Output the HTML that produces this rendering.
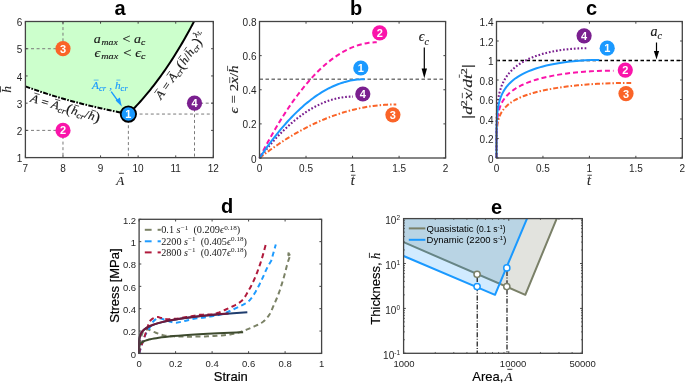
<!DOCTYPE html>
<html><head><meta charset="utf-8"><style>
html,body{margin:0;padding:0;background:#fff;width:685px;height:383px;overflow:hidden}
svg{display:block;filter:blur(0.3px)} text{white-space:pre}
</style></head><body>
<svg width="685" height="383" viewBox="0 0 685 383">
<rect width="685" height="383" fill="#fff"/>
<polygon points="25.40,21.50 194.01,21.50 194.01,21.50 192.32,24.70 190.64,27.86 188.96,30.96 187.27,34.01 185.59,37.01 183.91,39.97 182.23,42.88 180.54,45.74 178.86,48.55 177.18,51.32 175.49,54.05 173.81,56.72 172.13,59.36 170.44,61.95 168.76,64.50 167.08,67.00 165.40,69.47 163.71,71.89 162.03,74.27 160.35,76.61 158.66,78.91 156.98,81.17 155.30,83.39 153.61,85.57 151.93,87.72 150.25,89.83 148.57,91.90 146.88,93.93 145.20,95.93 143.52,97.89 141.83,99.82 140.15,101.72 138.47,103.58 136.78,105.40 135.10,107.20 133.42,108.96 131.74,110.69 130.05,112.38 128.37,114.05 128.37,114.05 125.73,113.53 123.09,113.01 120.45,112.48 117.81,111.95 115.17,111.40 112.53,110.85 109.89,110.28 107.25,109.71 104.61,109.13 101.97,108.55 99.33,107.95 96.69,107.34 94.05,106.72 91.41,106.10 88.77,105.46 86.13,104.81 83.49,104.16 80.84,103.49 78.20,102.81 75.56,102.12 72.92,101.41 70.28,100.70 67.64,99.97 65.00,99.23 62.36,98.48 59.72,97.71 57.08,96.93 54.44,96.14 51.80,95.33 49.16,94.50 46.52,93.66 43.88,92.81 41.24,91.94 38.60,91.05 35.96,90.15 33.32,89.22 30.68,88.28 28.04,87.32 25.40,86.35 25.40,86.35" fill="#ccffcc" />
<line x1="128.37" y1="114.05" x2="213.30" y2="114.05" stroke="#7a7a7a" stroke-width="1" stroke-dasharray="3 2.6" />
<line x1="128.37" y1="114.05" x2="128.37" y2="157.60" stroke="#7a7a7a" stroke-width="1" stroke-dasharray="3 2.6" />
<line x1="25.40" y1="130.38" x2="62.98" y2="130.38" stroke="#7a7a7a" stroke-width="1" stroke-dasharray="3 2.6" />
<line x1="62.98" y1="130.38" x2="62.98" y2="157.60" stroke="#7a7a7a" stroke-width="1" stroke-dasharray="3 2.6" />
<line x1="25.40" y1="48.72" x2="62.98" y2="48.72" stroke="#7a7a7a" stroke-width="1" stroke-dasharray="3 2.6" />
<line x1="62.98" y1="21.50" x2="62.98" y2="48.72" stroke="#7a7a7a" stroke-width="1" stroke-dasharray="3 2.6" />
<line x1="194.51" y1="103.16" x2="213.30" y2="103.16" stroke="#7a7a7a" stroke-width="1" stroke-dasharray="3 2.6" />
<line x1="194.51" y1="103.16" x2="194.51" y2="157.60" stroke="#7a7a7a" stroke-width="1" stroke-dasharray="3 2.6" />
<polyline points="25.40,86.35 28.04,87.32 30.68,88.28 33.32,89.22 35.96,90.15 38.60,91.05 41.24,91.94 43.88,92.81 46.52,93.66 49.16,94.50 51.80,95.33 54.44,96.14 57.08,96.93 59.72,97.71 62.36,98.48 65.00,99.23 67.64,99.97 70.28,100.70 72.92,101.41 75.56,102.12 78.20,102.81 80.84,103.49 83.49,104.16 86.13,104.81 88.77,105.46 91.41,106.10 94.05,106.72 96.69,107.34 99.33,107.95 101.97,108.55 104.61,109.13 107.25,109.71 109.89,110.28 112.53,110.85 115.17,111.40 117.81,111.95 120.45,112.48 123.09,113.01 125.73,113.53 128.37,114.05" fill="none" stroke="#000" stroke-width="2" stroke-dasharray="5 1.4 1.6 1.4" stroke-linejoin="round" />
<polyline points="128.37,114.05 130.05,112.38 131.74,110.69 133.42,108.96 135.10,107.20 136.78,105.40 138.47,103.58 140.15,101.72 141.83,99.82 143.52,97.89 145.20,95.93 146.88,93.93 148.57,91.90 150.25,89.83 151.93,87.72 153.61,85.57 155.30,83.39 156.98,81.17 158.66,78.91 160.35,76.61 162.03,74.27 163.71,71.89 165.40,69.47 167.08,67.00 168.76,64.50 170.44,61.95 172.13,59.36 173.81,56.72 175.49,54.05 177.18,51.32 178.86,48.55 180.54,45.74 182.23,42.88 183.91,39.97 185.59,37.01 187.27,34.01 188.96,30.96 190.64,27.86 192.32,24.70 194.01,21.50" fill="none" stroke="#000" stroke-width="2" stroke-linejoin="round" />
<line x1="25.40" y1="157.60" x2="25.40" y2="155.40" stroke="#444444" stroke-width="1" />
<line x1="25.40" y1="21.50" x2="25.40" y2="23.70" stroke="#444444" stroke-width="1" />
<line x1="62.98" y1="157.60" x2="62.98" y2="155.40" stroke="#444444" stroke-width="1" />
<line x1="62.98" y1="21.50" x2="62.98" y2="23.70" stroke="#444444" stroke-width="1" />
<line x1="100.56" y1="157.60" x2="100.56" y2="155.40" stroke="#444444" stroke-width="1" />
<line x1="100.56" y1="21.50" x2="100.56" y2="23.70" stroke="#444444" stroke-width="1" />
<line x1="138.14" y1="157.60" x2="138.14" y2="155.40" stroke="#444444" stroke-width="1" />
<line x1="138.14" y1="21.50" x2="138.14" y2="23.70" stroke="#444444" stroke-width="1" />
<line x1="175.72" y1="157.60" x2="175.72" y2="155.40" stroke="#444444" stroke-width="1" />
<line x1="175.72" y1="21.50" x2="175.72" y2="23.70" stroke="#444444" stroke-width="1" />
<line x1="213.30" y1="157.60" x2="213.30" y2="155.40" stroke="#444444" stroke-width="1" />
<line x1="213.30" y1="21.50" x2="213.30" y2="23.70" stroke="#444444" stroke-width="1" />
<line x1="25.40" y1="157.60" x2="27.60" y2="157.60" stroke="#444444" stroke-width="1" />
<line x1="213.30" y1="157.60" x2="211.10" y2="157.60" stroke="#444444" stroke-width="1" />
<line x1="25.40" y1="130.38" x2="27.60" y2="130.38" stroke="#444444" stroke-width="1" />
<line x1="213.30" y1="130.38" x2="211.10" y2="130.38" stroke="#444444" stroke-width="1" />
<line x1="25.40" y1="103.16" x2="27.60" y2="103.16" stroke="#444444" stroke-width="1" />
<line x1="213.30" y1="103.16" x2="211.10" y2="103.16" stroke="#444444" stroke-width="1" />
<line x1="25.40" y1="75.94" x2="27.60" y2="75.94" stroke="#444444" stroke-width="1" />
<line x1="213.30" y1="75.94" x2="211.10" y2="75.94" stroke="#444444" stroke-width="1" />
<line x1="25.40" y1="48.72" x2="27.60" y2="48.72" stroke="#444444" stroke-width="1" />
<line x1="213.30" y1="48.72" x2="211.10" y2="48.72" stroke="#444444" stroke-width="1" />
<line x1="25.40" y1="21.50" x2="27.60" y2="21.50" stroke="#444444" stroke-width="1" />
<line x1="213.30" y1="21.50" x2="211.10" y2="21.50" stroke="#444444" stroke-width="1" />
<rect x="25.40" y="21.50" width="187.90" height="136.10" fill="none" stroke="#444444" stroke-width="1.3"/>
<text x="25.40" y="171.60" font-family='"Liberation Sans", sans-serif' font-size="10" text-anchor="middle" font-weight="normal" fill="#262626" >7</text>
<text x="62.98" y="171.60" font-family='"Liberation Sans", sans-serif' font-size="10" text-anchor="middle" font-weight="normal" fill="#262626" >8</text>
<text x="100.56" y="171.60" font-family='"Liberation Sans", sans-serif' font-size="10" text-anchor="middle" font-weight="normal" fill="#262626" >9</text>
<text x="138.14" y="171.60" font-family='"Liberation Sans", sans-serif' font-size="10" text-anchor="middle" font-weight="normal" fill="#262626" >10</text>
<text x="175.72" y="171.60" font-family='"Liberation Sans", sans-serif' font-size="10" text-anchor="middle" font-weight="normal" fill="#262626" >11</text>
<text x="213.30" y="171.60" font-family='"Liberation Sans", sans-serif' font-size="10" text-anchor="middle" font-weight="normal" fill="#262626" >12</text>
<text x="22.40" y="162.20" font-family='"Liberation Sans", sans-serif' font-size="10" text-anchor="end" font-weight="normal" fill="#262626" >1</text>
<text x="22.40" y="134.98" font-family='"Liberation Sans", sans-serif' font-size="10" text-anchor="end" font-weight="normal" fill="#262626" >2</text>
<text x="22.40" y="107.76" font-family='"Liberation Sans", sans-serif' font-size="10" text-anchor="end" font-weight="normal" fill="#262626" >3</text>
<text x="22.40" y="80.54" font-family='"Liberation Sans", sans-serif' font-size="10" text-anchor="end" font-weight="normal" fill="#262626" >4</text>
<text x="22.40" y="53.32" font-family='"Liberation Sans", sans-serif' font-size="10" text-anchor="end" font-weight="normal" fill="#262626" >5</text>
<text x="22.40" y="26.10" font-family='"Liberation Sans", sans-serif' font-size="10" text-anchor="end" font-weight="normal" fill="#262626" >6</text>
<circle cx="128.37" cy="114.05" r="7.7" fill="#1a99ff" stroke="#000" stroke-width="1.8"/>
<text x="128.37" y="117.95" font-family='"Liberation Sans", sans-serif' font-size="11" text-anchor="middle" font-weight="bold" fill="#ffffff" >1</text>
<circle cx="62.98" cy="130.38" r="7.6" fill="#fa14aa"/>
<text x="62.98" y="134.28" font-family='"Liberation Sans", sans-serif' font-size="11" text-anchor="middle" font-weight="bold" fill="#ffffff" >2</text>
<circle cx="62.98" cy="48.72" r="7.6" fill="#fa6428"/>
<text x="62.98" y="52.62" font-family='"Liberation Sans", sans-serif' font-size="11" text-anchor="middle" font-weight="bold" fill="#ffffff" >3</text>
<circle cx="194.51" cy="103.16" r="7.6" fill="#7a1f8f"/>
<text x="194.51" y="107.06" font-family='"Liberation Sans", sans-serif' font-size="11" text-anchor="middle" font-weight="bold" fill="#ffffff" >4</text>
<g transform="translate(93.80,43.00)">
<text x="0.00" y="0.00" font-family='"Liberation Serif", serif' font-size="13.00" font-style="italic" fill="#1a1a1a" stroke="#1a1a1a" stroke-width="0.15" textLength="6.98" lengthAdjust="spacingAndGlyphs">a</text>
<text x="7.67" y="2.34" font-family='"Liberation Serif", serif' font-size="9.10" font-style="italic" fill="#1a1a1a" stroke="#1a1a1a" stroke-width="0.15" textLength="16.27" lengthAdjust="spacingAndGlyphs">max</text>
<text x="25.34" y="0.00" font-family='"Liberation Serif", serif' font-size="13.00" fill="#1a1a1a" stroke="#1a1a1a" stroke-width="0.15" textLength="14.85" lengthAdjust="spacingAndGlyphs"> &lt; </text>
<text x="40.19" y="0.00" font-family='"Liberation Serif", serif' font-size="13.00" font-style="italic" fill="#1a1a1a" stroke="#1a1a1a" stroke-width="0.15" textLength="6.98" lengthAdjust="spacingAndGlyphs">a</text>
<text x="47.16" y="2.34" font-family='"Liberation Serif", serif' font-size="9.10" font-style="italic" fill="#1a1a1a" stroke="#1a1a1a" stroke-width="0.15" textLength="4.34" lengthAdjust="spacingAndGlyphs">c</text>
</g>
<g transform="translate(94.60,56.70)">
<text x="0.00" y="0.00" font-family='"Liberation Serif", serif' font-size="13.00" font-style="italic" fill="#1a1a1a" stroke="#1a1a1a" stroke-width="0.15" textLength="5.88" lengthAdjust="spacingAndGlyphs">ϵ</text>
<text x="6.60" y="2.34" font-family='"Liberation Serif", serif' font-size="9.10" font-style="italic" fill="#1a1a1a" stroke="#1a1a1a" stroke-width="0.15" textLength="17.01" lengthAdjust="spacingAndGlyphs">max</text>
<text x="25.07" y="0.00" font-family='"Liberation Serif", serif' font-size="13.00" fill="#1a1a1a" stroke="#1a1a1a" stroke-width="0.15" textLength="15.52" lengthAdjust="spacingAndGlyphs"> &lt; </text>
<text x="40.59" y="0.00" font-family='"Liberation Serif", serif' font-size="13.00" font-style="italic" fill="#1a1a1a" stroke="#1a1a1a" stroke-width="0.15" textLength="5.88" lengthAdjust="spacingAndGlyphs">ϵ</text>
<text x="46.47" y="2.34" font-family='"Liberation Serif", serif' font-size="9.10" font-style="italic" fill="#1a1a1a" stroke="#1a1a1a" stroke-width="0.15" textLength="4.53" lengthAdjust="spacingAndGlyphs">c</text>
</g>
<g transform="translate(92.00,88.90)">
<text x="0.00" y="0.00" font-family='"Liberation Serif", serif' font-size="11.00" font-style="italic" fill="#1a99ff" stroke="#1a99ff" stroke-width="0.15" textLength="6.90" lengthAdjust="spacingAndGlyphs">A</text>
<line x1="1.73" y1="-8.80" x2="6.56" y2="-8.80" stroke="#1a99ff" stroke-width="0.66"/>
<text x="6.90" y="2.20" font-family='"Liberation Serif", serif' font-size="8.25" font-style="italic" fill="#1a99ff" stroke="#1a99ff" stroke-width="0.15" textLength="7.06" lengthAdjust="spacingAndGlyphs">cr</text>
<text x="14.52" y="0.00" font-family='"Liberation Serif", serif' font-size="11.00" fill="#1a99ff" stroke="#1a99ff" stroke-width="0.15" textLength="5.65" lengthAdjust="spacingAndGlyphs"> ,</text>
<text x="22.99" y="0.00" font-family='"Liberation Serif", serif' font-size="11.00" font-style="italic" fill="#1a99ff" stroke="#1a99ff" stroke-width="0.15" textLength="5.65" lengthAdjust="spacingAndGlyphs">h</text>
<line x1="24.41" y1="-8.80" x2="28.36" y2="-8.80" stroke="#1a99ff" stroke-width="0.66"/>
<text x="28.64" y="2.20" font-family='"Liberation Serif", serif' font-size="8.25" font-style="italic" fill="#1a99ff" stroke="#1a99ff" stroke-width="0.15" textLength="7.06" lengthAdjust="spacingAndGlyphs">cr</text>
</g>
<line x1="111.20" y1="91.60" x2="118.60" y2="101.80" stroke="#1a99ff" stroke-width="1.4" />
<polygon points="121.80,106.60 115.60,100.60 119.90,97.60" fill="#1a99ff" />
<g transform="translate(29.80,101.50) rotate(16.5)">
<text x="0.00" y="0.00" font-family='"Liberation Serif", serif' font-size="11.50" font-style="italic" fill="#1a1a1a" stroke="#1a1a1a" stroke-width="0.15" textLength="7.86" lengthAdjust="spacingAndGlyphs">A</text>
<line x1="1.96" y1="-9.43" x2="7.47" y2="-9.43" stroke="#1a1a1a" stroke-width="0.69"/>
<text x="7.86" y="0.00" font-family='"Liberation Serif", serif' font-size="11.50" fill="#1a1a1a" stroke="#1a1a1a" stroke-width="0.15" textLength="13.69" lengthAdjust="spacingAndGlyphs"> = </text>
<text x="21.55" y="0.00" font-family='"Liberation Serif", serif' font-size="11.50" font-style="italic" fill="#1a1a1a" stroke="#1a1a1a" stroke-width="0.15" textLength="7.86" lengthAdjust="spacingAndGlyphs">A</text>
<line x1="23.52" y1="-9.43" x2="29.02" y2="-9.43" stroke="#1a1a1a" stroke-width="0.69"/>
<text x="29.41" y="2.30" font-family='"Liberation Serif", serif' font-size="8.28" font-style="italic" fill="#1a1a1a" stroke="#1a1a1a" stroke-width="0.15" textLength="7.72" lengthAdjust="spacingAndGlyphs">cr</text>
<text x="37.13" y="0.69" font-family='"Liberation Serif", serif' font-size="14.38" fill="#1a1a1a" stroke="#1a1a1a" stroke-width="0.15" textLength="5.36" lengthAdjust="spacingAndGlyphs">(</text>
<text x="42.48" y="0.00" font-family='"Liberation Serif", serif' font-size="11.50" font-style="italic" fill="#1a1a1a" stroke="#1a1a1a" stroke-width="0.15" textLength="6.43" lengthAdjust="spacingAndGlyphs">h</text>
<line x1="44.09" y1="-9.43" x2="48.60" y2="-9.43" stroke="#1a1a1a" stroke-width="0.69"/>
<text x="48.92" y="2.30" font-family='"Liberation Serif", serif' font-size="8.28" font-style="italic" fill="#1a1a1a" stroke="#1a1a1a" stroke-width="0.15" textLength="7.72" lengthAdjust="spacingAndGlyphs">cr</text>
<text x="56.64" y="0.00" font-family='"Liberation Serif", serif' font-size="11.50" fill="#1a1a1a" stroke="#1a1a1a" stroke-width="0.15" textLength="3.57" lengthAdjust="spacingAndGlyphs">/</text>
<text x="60.21" y="0.00" font-family='"Liberation Serif", serif' font-size="11.50" font-style="italic" fill="#1a1a1a" stroke="#1a1a1a" stroke-width="0.15" textLength="6.43" lengthAdjust="spacingAndGlyphs">h</text>
<line x1="61.82" y1="-9.43" x2="66.32" y2="-9.43" stroke="#1a1a1a" stroke-width="0.69"/>
<text x="66.64" y="0.69" font-family='"Liberation Serif", serif' font-size="14.38" fill="#1a1a1a" stroke="#1a1a1a" stroke-width="0.15" textLength="5.36" lengthAdjust="spacingAndGlyphs">)</text>
</g>
<g transform="translate(161.00,100.00) rotate(-55)">
<text x="0.00" y="0.00" font-family='"Liberation Serif", serif' font-size="11.50" font-style="italic" fill="#1a1a1a" stroke="#1a1a1a" stroke-width="0.15" textLength="7.81" lengthAdjust="spacingAndGlyphs">A</text>
<line x1="1.95" y1="-9.43" x2="7.42" y2="-9.43" stroke="#1a1a1a" stroke-width="0.69"/>
<text x="7.81" y="0.00" font-family='"Liberation Serif", serif' font-size="11.50" fill="#1a1a1a" stroke="#1a1a1a" stroke-width="0.15" textLength="13.61" lengthAdjust="spacingAndGlyphs"> = </text>
<text x="21.42" y="0.00" font-family='"Liberation Serif", serif' font-size="11.50" font-style="italic" fill="#1a1a1a" stroke="#1a1a1a" stroke-width="0.15" textLength="7.81" lengthAdjust="spacingAndGlyphs">A</text>
<line x1="23.37" y1="-9.43" x2="28.84" y2="-9.43" stroke="#1a1a1a" stroke-width="0.69"/>
<text x="29.23" y="2.30" font-family='"Liberation Serif", serif' font-size="8.28" font-style="italic" fill="#1a1a1a" stroke="#1a1a1a" stroke-width="0.15" textLength="7.67" lengthAdjust="spacingAndGlyphs">cr</text>
<text x="36.90" y="0.69" font-family='"Liberation Serif", serif' font-size="14.38" fill="#1a1a1a" stroke="#1a1a1a" stroke-width="0.15" textLength="5.32" lengthAdjust="spacingAndGlyphs">(</text>
<text x="42.23" y="0.00" font-family='"Liberation Serif", serif' font-size="11.50" font-style="italic" fill="#1a1a1a" stroke="#1a1a1a" stroke-width="0.15" textLength="6.39" lengthAdjust="spacingAndGlyphs">h</text>
<line x1="43.83" y1="-9.43" x2="48.30" y2="-9.43" stroke="#1a1a1a" stroke-width="0.69"/>
<text x="48.62" y="0.00" font-family='"Liberation Serif", serif' font-size="11.50" fill="#1a1a1a" stroke="#1a1a1a" stroke-width="0.15" textLength="3.55" lengthAdjust="spacingAndGlyphs">/</text>
<text x="52.18" y="0.00" font-family='"Liberation Serif", serif' font-size="11.50" font-style="italic" fill="#1a1a1a" stroke="#1a1a1a" stroke-width="0.15" textLength="6.39" lengthAdjust="spacingAndGlyphs">h</text>
<line x1="53.77" y1="-9.43" x2="58.25" y2="-9.43" stroke="#1a1a1a" stroke-width="0.69"/>
<text x="58.57" y="2.30" font-family='"Liberation Serif", serif' font-size="8.28" font-style="italic" fill="#1a1a1a" stroke="#1a1a1a" stroke-width="0.15" textLength="7.67" lengthAdjust="spacingAndGlyphs">cr</text>
<text x="66.24" y="0.69" font-family='"Liberation Serif", serif' font-size="14.38" fill="#1a1a1a" stroke="#1a1a1a" stroke-width="0.15" textLength="5.32" lengthAdjust="spacingAndGlyphs">)</text>
<text x="71.57" y="-6.33" font-family='"Liberation Serif", serif' font-size="8.05" font-style="italic" fill="#1a1a1a" stroke="#1a1a1a" stroke-width="0.15" textLength="3.88" lengthAdjust="spacingAndGlyphs">λ</text>
<text x="75.44" y="-5.17" font-family='"Liberation Serif", serif' font-size="5.75" font-style="italic" fill="#1a1a1a" stroke="#1a1a1a" stroke-width="0.15" textLength="3.56" lengthAdjust="spacingAndGlyphs">L</text>
</g>
<g transform="translate(120.20,184.70)">
<text x="-3.97" y="0.00" font-family='"Liberation Serif", serif' font-size="13.00" font-style="italic" fill="#262626" stroke="#262626" stroke-width="0.15">A</text>
<line x1="-1.27" y1="-11.38" x2="3.73" y2="-11.38" stroke="#262626" stroke-width="0.78"/>
</g>
<g transform="translate(11.30,89.30) rotate(-90)">
<text x="-3.38" y="0.00" font-family='"Liberation Serif", serif' font-size="13.50" font-style="italic" fill="#262626" stroke="#262626" stroke-width="0.15">h</text>
<line x1="-3.04" y1="-10.80" x2="3.04" y2="-10.80" stroke="#262626" stroke-width="0.81"/>
</g>
<text x="120.00" y="14.50" font-family='"Liberation Sans", sans-serif' font-size="20" text-anchor="middle" font-weight="bold" fill="#000" >a</text>
<line x1="259.50" y1="79.17" x2="445.60" y2="79.17" stroke="#333" stroke-width="1" stroke-dasharray="3.5 2.5" />
<polyline points="259.50,158.00 261.82,156.20 264.14,154.43 266.46,152.69 268.77,150.98 271.09,149.30 273.41,147.66 275.73,146.04 278.05,144.46 280.37,142.90 282.68,141.38 285.00,139.88 287.32,138.42 289.64,136.99 291.96,135.59 294.28,134.22 296.59,132.88 298.91,131.57 301.23,130.30 303.55,129.05 305.87,127.83 308.19,126.65 310.50,125.49 312.82,124.37 315.14,123.28 317.46,122.22 319.78,121.18 322.10,120.18 324.41,119.21 326.73,118.28 329.05,117.37 331.37,116.49 333.69,115.64 336.01,114.83 338.32,114.04 340.64,113.29 342.96,112.57 345.28,111.87 347.60,111.21 349.92,110.58 352.23,109.98 354.55,109.41 356.87,108.87 359.19,108.36 361.51,107.89 363.83,107.44 366.14,107.02 368.46,106.64 370.78,106.29 373.10,105.96 375.42,105.67 377.74,105.41 380.05,105.18 382.37,104.98 384.69,104.81 387.01,104.67 389.33,104.56 391.65,104.49 393.97,104.44 396.28,104.42" fill="none" stroke="#fa6428" stroke-width="2" stroke-dasharray="5 2 1.5 2" stroke-linejoin="round" />
<polyline points="259.50,158.00 261.49,154.11 263.47,150.29 265.46,146.53 267.45,142.85 269.44,139.22 271.42,135.67 273.41,132.18 275.40,128.76 277.38,125.40 279.37,122.11 281.36,118.88 283.35,115.73 285.33,112.64 287.32,109.61 289.31,106.66 291.29,103.76 293.28,100.94 295.27,98.18 297.26,95.49 299.24,92.86 301.23,90.30 303.22,87.81 305.20,85.39 307.19,83.03 309.18,80.73 311.17,78.51 313.15,76.35 315.14,74.25 317.13,72.23 319.12,70.27 321.10,68.37 323.09,66.54 325.08,64.78 327.06,63.09 329.05,61.46 331.04,59.90 333.03,58.40 335.01,56.97 337.00,55.61 338.99,54.31 340.97,53.08 342.96,51.92 344.95,50.82 346.94,49.79 348.92,48.83 350.91,47.93 352.90,47.10 354.88,46.34 356.87,45.64 358.86,45.01 360.85,44.44 362.83,43.94 364.82,43.51 366.81,43.15 368.79,42.85 370.78,42.62 372.77,42.45 374.76,42.35 376.74,42.32" fill="none" stroke="#fa14aa" stroke-width="2" stroke-dasharray="5 3" stroke-linejoin="round" />
<polyline points="259.50,158.00 261.09,155.94 262.67,153.91 264.26,151.91 265.84,149.95 267.43,148.03 269.01,146.14 270.60,144.29 272.18,142.47 273.77,140.69 275.35,138.94 276.94,137.23 278.52,135.55 280.11,133.91 281.69,132.31 283.28,130.74 284.86,129.20 286.45,127.70 288.03,126.24 289.62,124.81 291.20,123.41 292.79,122.06 294.37,120.73 295.96,119.44 297.54,118.19 299.13,116.97 300.71,115.79 302.30,114.64 303.88,113.53 305.47,112.46 307.05,111.42 308.64,110.41 310.22,109.44 311.81,108.50 313.39,107.60 314.98,106.74 316.56,105.91 318.15,105.12 319.73,104.36 321.32,103.63 322.90,102.95 324.49,102.29 326.07,101.67 327.66,101.09 329.24,100.55 330.83,100.03 332.41,99.56 334.00,99.12 335.58,98.71 337.17,98.34 338.75,98.00 340.34,97.70 341.92,97.44 343.51,97.21 345.09,97.02 346.68,96.86 348.26,96.73 349.85,96.65 351.43,96.59 353.02,96.58" fill="none" stroke="#7a1f8f" stroke-width="2.1" stroke-dasharray="1.7 1.9" stroke-linejoin="round" />
<polyline points="259.50,158.00 261.28,155.35 263.06,152.75 264.85,150.19 266.63,147.67 268.41,145.21 270.19,142.78 271.98,140.40 273.76,138.07 275.54,135.78 277.32,133.54 279.10,131.35 280.89,129.20 282.67,127.09 284.45,125.03 286.23,123.01 288.01,121.04 289.80,119.12 291.58,117.24 293.36,115.40 295.14,113.61 296.93,111.87 298.71,110.17 300.49,108.52 302.27,106.91 304.05,105.35 305.84,103.83 307.62,102.36 309.40,100.93 311.18,99.55 312.96,98.22 314.75,96.93 316.53,95.68 318.31,94.48 320.09,93.32 321.88,92.22 323.66,91.15 325.44,90.13 327.22,89.16 329.00,88.23 330.79,87.35 332.57,86.51 334.35,85.72 336.13,84.97 337.91,84.27 339.70,83.61 341.48,83.00 343.26,82.43 345.04,81.91 346.83,81.44 348.61,81.01 350.39,80.62 352.17,80.28 353.95,79.99 355.74,79.74 357.52,79.53 359.30,79.38 361.08,79.26 362.86,79.19 364.65,79.17" fill="none" stroke="#1a99ff" stroke-width="2" stroke-linejoin="round" />
<line x1="259.50" y1="158.00" x2="259.50" y2="155.80" stroke="#444444" stroke-width="1" />
<line x1="259.50" y1="21.50" x2="259.50" y2="23.70" stroke="#444444" stroke-width="1" />
<line x1="306.02" y1="158.00" x2="306.02" y2="155.80" stroke="#444444" stroke-width="1" />
<line x1="306.02" y1="21.50" x2="306.02" y2="23.70" stroke="#444444" stroke-width="1" />
<line x1="352.55" y1="158.00" x2="352.55" y2="155.80" stroke="#444444" stroke-width="1" />
<line x1="352.55" y1="21.50" x2="352.55" y2="23.70" stroke="#444444" stroke-width="1" />
<line x1="399.08" y1="158.00" x2="399.08" y2="155.80" stroke="#444444" stroke-width="1" />
<line x1="399.08" y1="21.50" x2="399.08" y2="23.70" stroke="#444444" stroke-width="1" />
<line x1="445.60" y1="158.00" x2="445.60" y2="155.80" stroke="#444444" stroke-width="1" />
<line x1="445.60" y1="21.50" x2="445.60" y2="23.70" stroke="#444444" stroke-width="1" />
<line x1="259.50" y1="158.00" x2="261.70" y2="158.00" stroke="#444444" stroke-width="1" />
<line x1="445.60" y1="158.00" x2="443.40" y2="158.00" stroke="#444444" stroke-width="1" />
<line x1="259.50" y1="123.88" x2="261.70" y2="123.88" stroke="#444444" stroke-width="1" />
<line x1="445.60" y1="123.88" x2="443.40" y2="123.88" stroke="#444444" stroke-width="1" />
<line x1="259.50" y1="89.75" x2="261.70" y2="89.75" stroke="#444444" stroke-width="1" />
<line x1="445.60" y1="89.75" x2="443.40" y2="89.75" stroke="#444444" stroke-width="1" />
<line x1="259.50" y1="55.63" x2="261.70" y2="55.63" stroke="#444444" stroke-width="1" />
<line x1="445.60" y1="55.63" x2="443.40" y2="55.63" stroke="#444444" stroke-width="1" />
<line x1="259.50" y1="21.50" x2="261.70" y2="21.50" stroke="#444444" stroke-width="1" />
<line x1="445.60" y1="21.50" x2="443.40" y2="21.50" stroke="#444444" stroke-width="1" />
<rect x="259.50" y="21.50" width="186.10" height="136.50" fill="none" stroke="#444444" stroke-width="1.3"/>
<text x="259.50" y="172.00" font-family='"Liberation Sans", sans-serif' font-size="10" text-anchor="middle" font-weight="normal" fill="#262626" >0</text>
<text x="306.02" y="172.00" font-family='"Liberation Sans", sans-serif' font-size="10" text-anchor="middle" font-weight="normal" fill="#262626" >0.5</text>
<text x="352.55" y="172.00" font-family='"Liberation Sans", sans-serif' font-size="10" text-anchor="middle" font-weight="normal" fill="#262626" >1</text>
<text x="399.08" y="172.00" font-family='"Liberation Sans", sans-serif' font-size="10" text-anchor="middle" font-weight="normal" fill="#262626" >1.5</text>
<text x="445.60" y="172.00" font-family='"Liberation Sans", sans-serif' font-size="10" text-anchor="middle" font-weight="normal" fill="#262626" >2</text>
<text x="256.50" y="162.60" font-family='"Liberation Sans", sans-serif' font-size="10" text-anchor="end" font-weight="normal" fill="#262626" >0</text>
<text x="256.50" y="128.47" font-family='"Liberation Sans", sans-serif' font-size="10" text-anchor="end" font-weight="normal" fill="#262626" >0.2</text>
<text x="256.50" y="94.35" font-family='"Liberation Sans", sans-serif' font-size="10" text-anchor="end" font-weight="normal" fill="#262626" >0.4</text>
<text x="256.50" y="60.23" font-family='"Liberation Sans", sans-serif' font-size="10" text-anchor="end" font-weight="normal" fill="#262626" >0.6</text>
<text x="256.50" y="26.10" font-family='"Liberation Sans", sans-serif' font-size="10" text-anchor="end" font-weight="normal" fill="#262626" >0.8</text>
<circle cx="379.70" cy="32.90" r="7.6" fill="#fa14aa"/>
<text x="379.70" y="36.80" font-family='"Liberation Sans", sans-serif' font-size="11" text-anchor="middle" font-weight="bold" fill="#ffffff" >2</text>
<circle cx="360.80" cy="68.00" r="7.6" fill="#1a99ff"/>
<text x="360.80" y="71.90" font-family='"Liberation Sans", sans-serif' font-size="11" text-anchor="middle" font-weight="bold" fill="#ffffff" >1</text>
<circle cx="362.80" cy="94.00" r="7.6" fill="#7a1f8f"/>
<text x="362.80" y="97.90" font-family='"Liberation Sans", sans-serif' font-size="11" text-anchor="middle" font-weight="bold" fill="#ffffff" >4</text>
<circle cx="392.90" cy="114.80" r="7.6" fill="#fa6428"/>
<text x="392.90" y="118.70" font-family='"Liberation Sans", sans-serif' font-size="11" text-anchor="middle" font-weight="bold" fill="#ffffff" >3</text>
<g transform="translate(418.80,41.20)">
<text x="0.00" y="0.00" font-family='"Liberation Serif", serif' font-size="14.00" font-style="italic" fill="#1a1a1a" stroke="#1a1a1a" stroke-width="0.15">ϵ</text>
<text x="5.64" y="3.36" font-family='"Liberation Serif", serif' font-size="10.08" font-style="italic" fill="#1a1a1a" stroke="#1a1a1a" stroke-width="0.15">c</text>
</g>
<line x1="424.30" y1="47.50" x2="424.30" y2="70.00" stroke="#000" stroke-width="1.2" />
<polygon points="424.30,78.20 421.60,68.50 427.00,68.50" fill="#000" />
<g transform="translate(352.60,184.90)">
<text x="-1.94" y="0.00" font-family='"Liberation Serif", serif' font-size="14.00" font-style="italic" fill="#262626" stroke="#262626" stroke-width="0.15">t</text>
<line x1="-1.56" y1="-9.66" x2="2.92" y2="-9.66" stroke="#262626" stroke-width="0.84"/>
</g>
<g transform="translate(238.10,89.40) rotate(-90)">
<text x="-24.00" y="0.00" font-family='"Liberation Serif", serif' font-size="12.00" font-style="italic" fill="#262626" stroke="#262626" stroke-width="0.15" textLength="6.06" lengthAdjust="spacingAndGlyphs">ϵ</text>
<text x="-17.94" y="0.00" font-family='"Liberation Serif", serif' font-size="12.00" fill="#262626" stroke="#262626" stroke-width="0.15" textLength="23.54" lengthAdjust="spacingAndGlyphs"> = 2</text>
<text x="5.61" y="0.00" font-family='"Liberation Serif", serif' font-size="12.00" font-style="italic" fill="#262626" stroke="#262626" stroke-width="0.15" textLength="6.68" lengthAdjust="spacingAndGlyphs">x</text>
<line x1="6.28" y1="-8.40" x2="12.29" y2="-8.40" stroke="#262626" stroke-width="0.72"/>
<text x="12.29" y="0.00" font-family='"Liberation Serif", serif' font-size="12.00" fill="#262626" stroke="#262626" stroke-width="0.15" textLength="4.18" lengthAdjust="spacingAndGlyphs">/</text>
<text x="16.47" y="0.00" font-family='"Liberation Serif", serif' font-size="12.00" font-style="italic" fill="#262626" stroke="#262626" stroke-width="0.15" textLength="7.53" lengthAdjust="spacingAndGlyphs">h</text>
<line x1="18.35" y1="-10.56" x2="23.62" y2="-10.56" stroke="#262626" stroke-width="0.72"/>
</g>
<text x="356.00" y="14.50" font-family='"Liberation Sans", sans-serif' font-size="20" text-anchor="middle" font-weight="bold" fill="#000" >b</text>
<line x1="496.50" y1="60.50" x2="682.30" y2="60.50" stroke="#000" stroke-width="1.3" stroke-dasharray="3.5 2.5" />
<polyline points="496.50,158.00 496.50,148.39 496.50,148.26 496.50,148.12 496.50,147.99 496.50,147.85 496.50,147.71 496.50,147.56 496.50,147.42 496.50,147.27 496.50,147.12 496.50,146.97 496.50,146.82 496.50,146.67 496.50,146.51 496.50,146.35 496.50,146.19 496.50,146.02 496.50,145.86 496.50,145.69 496.51,145.52 496.51,145.35 496.51,145.17 496.51,144.99 496.51,144.81 496.51,144.63 496.51,144.45 496.51,144.26 496.51,144.07 496.51,143.88 496.51,143.68 496.51,143.48 496.51,143.28 496.51,143.08 496.51,142.87 496.52,142.66 496.52,142.45 496.52,142.23 496.52,142.01 496.52,141.79 496.52,141.57 496.52,141.34 496.53,141.11 496.53,140.88 496.53,140.64 496.53,140.40 496.54,140.15 496.54,139.91 496.54,139.66 496.54,139.40 496.55,139.14 496.55,138.88 496.55,138.62 496.56,138.35 496.56,138.08 496.57,137.80 496.57,137.52 496.58,137.24 496.58,136.95 496.59,136.66 496.60,136.36 496.60,136.06 496.61,135.76 496.62,135.45 496.63,135.14 496.64,134.82 496.65,134.50 496.66,134.18 496.67,133.85 496.69,133.51 496.70,133.17 496.71,132.83 496.73,132.48 496.75,132.13 496.77,131.77 496.79,131.41 496.81,131.04 496.83,130.67 496.86,130.29 496.88,129.91 496.91,129.52 496.94,129.12 496.97,128.72 497.01,128.32 497.05,127.91 497.09,127.49 497.13,127.07 497.18,126.64 497.23,126.21 497.29,125.77 497.35,125.33 497.41,124.88 497.48,124.42 497.55,123.95 497.63,123.49 497.72,123.01 497.81,122.53 497.91,122.04 498.01,121.54 498.13,121.04 498.25,120.53 498.38,120.02 498.52,119.49 498.67,118.96 498.84,118.43 499.01,117.89 499.20,117.34 499.40,116.78 499.62,116.21 499.85,115.64 500.11,115.06 500.38,114.48 500.67,113.88 500.98,113.28 501.32,112.67 501.68,112.06 502.07,111.43 502.49,110.80 502.94,110.16 503.42,109.52 503.94,108.87 504.50,108.21 505.10,107.54 505.74,106.86 506.44,106.18 507.18,105.49 507.99,104.80 508.85,104.09 509.78,103.38 510.77,102.67 511.85,101.95 513.00,101.22 514.24,100.49 515.57,99.75 517.00,99.01 518.54,98.26 520.20,97.51 521.97,96.75 523.89,96.00 525.94,95.24 528.16,94.48 530.53,93.73 533.09,92.97 535.84,92.22 538.79,91.47 541.97,90.73 545.38,90.00 549.05,89.28 553.00,88.57 557.24,87.87 561.80,87.20 566.70,86.55 571.98,85.93 577.64,85.34 583.74,84.79 590.29,84.29 597.33,83.85 604.90,83.48 613.04,83.19 621.80,82.99 631.20,82.92" fill="none" stroke="#fa6428" stroke-width="2" stroke-dasharray="5 2 1.5 2" stroke-linejoin="round" />
<polyline points="496.50,158.00 496.50,146.82 496.50,146.66 496.50,146.51 496.50,146.35 496.50,146.19 496.50,146.02 496.50,145.86 496.50,145.69 496.50,145.52 496.50,145.34 496.50,145.17 496.50,144.99 496.50,144.81 496.50,144.63 496.50,144.44 496.50,144.26 496.50,144.07 496.50,143.87 496.50,143.68 496.50,143.48 496.50,143.28 496.51,143.07 496.51,142.87 496.51,142.66 496.51,142.44 496.51,142.23 496.51,142.01 496.51,141.79 496.51,141.56 496.51,141.34 496.51,141.11 496.51,140.87 496.51,140.63 496.51,140.39 496.51,140.15 496.51,139.90 496.52,139.65 496.52,139.40 496.52,139.14 496.52,138.88 496.52,138.61 496.52,138.35 496.52,138.07 496.53,137.80 496.53,137.52 496.53,137.23 496.53,136.95 496.54,136.65 496.54,136.36 496.54,136.06 496.54,135.75 496.55,135.45 496.55,135.13 496.55,134.82 496.56,134.50 496.56,134.17 496.57,133.84 496.57,133.51 496.58,133.17 496.58,132.82 496.59,132.47 496.60,132.12 496.60,131.76 496.61,131.40 496.62,131.03 496.63,130.66 496.64,130.28 496.65,129.90 496.66,129.51 496.67,129.11 496.69,128.71 496.70,128.31 496.72,127.90 496.73,127.48 496.75,127.06 496.77,126.63 496.79,126.20 496.81,125.76 496.83,125.31 496.86,124.86 496.88,124.40 496.91,123.93 496.94,123.46 496.98,122.99 497.01,122.50 497.05,122.01 497.09,121.51 497.14,121.01 497.18,120.50 497.24,119.98 497.29,119.46 497.35,118.92 497.42,118.38 497.48,117.84 497.56,117.28 497.64,116.72 497.72,116.15 497.81,115.58 497.91,114.99 498.02,114.40 498.13,113.80 498.26,113.19 498.39,112.58 498.53,111.95 498.68,111.32 498.85,110.68 499.02,110.03 499.21,109.38 499.41,108.71 499.63,108.04 499.87,107.35 500.12,106.66 500.39,105.96 500.69,105.26 501.00,104.54 501.34,103.81 501.70,103.08 502.09,102.34 502.51,101.59 502.96,100.83 503.45,100.06 503.97,99.28 504.53,98.49 505.14,97.70 505.78,96.90 506.48,96.09 507.23,95.27 508.04,94.45 508.90,93.61 509.83,92.77 510.84,91.93 511.91,91.07 513.07,90.22 514.31,89.35 515.65,88.48 517.09,87.61 518.64,86.73 520.30,85.85 522.09,84.97 524.01,84.09 526.07,83.21 528.29,82.33 530.68,81.46 533.25,80.59 536.01,79.72 538.98,78.87 542.16,78.03 545.59,77.20 549.28,76.40 553.24,75.61 557.51,74.86 562.09,74.13 567.01,73.45 572.31,72.81 578.00,72.23 584.12,71.72 590.70,71.28 597.77,70.94 605.38,70.72 613.55,70.64" fill="none" stroke="#fa14aa" stroke-width="2" stroke-dasharray="5 3" stroke-linejoin="round" />
<polyline points="496.50,158.00 496.50,143.95 496.50,143.75 496.50,143.56 496.50,143.36 496.50,143.15 496.50,142.95 496.50,142.74 496.50,142.53 496.50,142.31 496.50,142.10 496.50,141.88 496.50,141.65 496.50,141.43 496.50,141.20 496.50,140.96 496.50,140.73 496.50,140.49 496.50,140.25 496.50,140.00 496.50,139.75 496.50,139.50 496.50,139.24 496.50,138.98 496.50,138.72 496.51,138.45 496.51,138.18 496.51,137.91 496.51,137.63 496.51,137.34 496.51,137.06 496.51,136.77 496.51,136.47 496.51,136.18 496.51,135.87 496.51,135.57 496.51,135.26 496.51,134.94 496.51,134.62 496.51,134.30 496.52,133.97 496.52,133.64 496.52,133.30 496.52,132.96 496.52,132.61 496.52,132.26 496.52,131.90 496.53,131.54 496.53,131.17 496.53,130.80 496.53,130.43 496.53,130.04 496.54,129.66 496.54,129.26 496.54,128.87 496.55,128.46 496.55,128.05 496.55,127.64 496.56,127.22 496.56,126.79 496.57,126.36 496.57,125.92 496.58,125.48 496.58,125.03 496.59,124.57 496.59,124.11 496.60,123.64 496.61,123.16 496.62,122.68 496.63,122.19 496.63,121.70 496.64,121.19 496.66,120.69 496.67,120.17 496.68,119.65 496.69,119.11 496.71,118.58 496.72,118.03 496.74,117.48 496.76,116.92 496.78,116.35 496.80,115.77 496.82,115.19 496.85,114.60 496.87,114.00 496.90,113.39 496.93,112.77 496.96,112.15 497.00,111.51 497.03,110.87 497.07,110.22 497.12,109.56 497.16,108.89 497.21,108.21 497.27,107.53 497.32,106.83 497.38,106.13 497.45,105.41 497.52,104.69 497.60,103.95 497.68,103.21 497.77,102.45 497.87,101.69 497.97,100.92 498.08,100.13 498.20,99.34 498.32,98.53 498.46,97.72 498.61,96.89 498.77,96.06 498.94,95.21 499.12,94.35 499.32,93.49 499.53,92.61 499.76,91.72 500.00,90.82 500.26,89.90 500.55,88.98 500.85,88.05 501.18,87.10 501.53,86.15 501.91,85.18 502.31,84.21 502.75,83.22 503.22,82.22 503.72,81.21 504.26,80.20 504.85,79.17 505.47,78.13 506.15,77.09 506.87,76.03 507.65,74.97 508.49,73.89 509.39,72.82 510.36,71.73 511.40,70.64 512.51,69.54 513.72,68.44 515.01,67.33 516.40,66.23 517.89,65.12 519.50,64.01 521.23,62.91 523.09,61.81 525.08,60.71 527.23,59.63 529.54,58.56 532.02,57.50 534.68,56.46 537.55,55.45 540.63,54.47 543.95,53.52 547.51,52.61 551.34,51.75 555.46,50.95 559.89,50.22 564.65,49.57 569.77,49.02 575.27,48.60 581.18,48.32 587.54,48.22" fill="none" stroke="#7a1f8f" stroke-width="2.1" stroke-dasharray="1.7 1.9" stroke-linejoin="round" />
<polyline points="496.50,158.00 496.50,145.46 496.50,145.28 496.50,145.11 496.50,144.93 496.50,144.75 496.50,144.56 496.50,144.38 496.50,144.19 496.50,144.00 496.50,143.80 496.50,143.61 496.50,143.41 496.50,143.21 496.50,143.00 496.50,142.79 496.50,142.58 496.50,142.37 496.50,142.15 496.50,141.93 496.50,141.71 496.50,141.49 496.50,141.26 496.51,141.02 496.51,140.79 496.51,140.55 496.51,140.31 496.51,140.06 496.51,139.82 496.51,139.56 496.51,139.31 496.51,139.05 496.51,138.79 496.51,138.52 496.51,138.25 496.51,137.98 496.51,137.70 496.51,137.42 496.51,137.13 496.52,136.85 496.52,136.55 496.52,136.26 496.52,135.95 496.52,135.65 496.52,135.34 496.52,135.03 496.53,134.71 496.53,134.38 496.53,134.06 496.53,133.73 496.54,133.39 496.54,133.05 496.54,132.70 496.54,132.35 496.55,132.00 496.55,131.64 496.56,131.27 496.56,130.90 496.56,130.53 496.57,130.15 496.57,129.76 496.58,129.37 496.59,128.97 496.59,128.57 496.60,128.16 496.61,127.75 496.61,127.33 496.62,126.91 496.63,126.48 496.64,126.04 496.65,125.60 496.66,125.15 496.68,124.69 496.69,124.23 496.70,123.77 496.72,123.29 496.73,122.81 496.75,122.33 496.77,121.83 496.79,121.33 496.81,120.82 496.84,120.31 496.86,119.79 496.89,119.26 496.92,118.73 496.95,118.18 496.98,117.63 497.02,117.07 497.06,116.51 497.10,115.94 497.15,115.36 497.19,114.77 497.25,114.17 497.30,113.56 497.36,112.95 497.43,112.33 497.50,111.70 497.57,111.06 497.65,110.42 497.74,109.76 497.83,109.10 497.93,108.42 498.04,107.74 498.16,107.05 498.28,106.35 498.42,105.64 498.56,104.92 498.71,104.20 498.88,103.46 499.06,102.71 499.25,101.96 499.46,101.19 499.68,100.42 499.92,99.63 500.17,98.84 500.45,98.04 500.75,97.22 501.07,96.40 501.41,95.57 501.78,94.72 502.17,93.87 502.60,93.01 503.06,92.14 503.55,91.26 504.08,90.37 504.65,89.47 505.26,88.56 505.92,87.64 506.63,86.71 507.39,85.78 508.21,84.84 509.08,83.89 510.03,82.93 511.05,81.97 512.14,81.00 513.31,80.03 514.57,79.05 515.93,78.06 517.39,77.08 518.96,76.09 520.65,75.10 522.46,74.11 524.41,73.13 526.50,72.14 528.76,71.17 531.18,70.20 533.78,69.24 536.58,68.30 539.59,67.37 542.83,66.47 546.31,65.59 550.05,64.74 554.07,63.93 558.39,63.16 563.04,62.45 568.04,61.80 573.41,61.22 579.19,60.73 585.40,60.35 592.07,60.10 599.25,60.01" fill="none" stroke="#1a99ff" stroke-width="2" stroke-linejoin="round" />
<line x1="496.50" y1="158.00" x2="496.50" y2="155.80" stroke="#444444" stroke-width="1" />
<line x1="496.50" y1="21.50" x2="496.50" y2="23.70" stroke="#444444" stroke-width="1" />
<line x1="542.95" y1="158.00" x2="542.95" y2="155.80" stroke="#444444" stroke-width="1" />
<line x1="542.95" y1="21.50" x2="542.95" y2="23.70" stroke="#444444" stroke-width="1" />
<line x1="589.40" y1="158.00" x2="589.40" y2="155.80" stroke="#444444" stroke-width="1" />
<line x1="589.40" y1="21.50" x2="589.40" y2="23.70" stroke="#444444" stroke-width="1" />
<line x1="635.85" y1="158.00" x2="635.85" y2="155.80" stroke="#444444" stroke-width="1" />
<line x1="635.85" y1="21.50" x2="635.85" y2="23.70" stroke="#444444" stroke-width="1" />
<line x1="682.30" y1="158.00" x2="682.30" y2="155.80" stroke="#444444" stroke-width="1" />
<line x1="682.30" y1="21.50" x2="682.30" y2="23.70" stroke="#444444" stroke-width="1" />
<line x1="496.50" y1="158.00" x2="498.70" y2="158.00" stroke="#444444" stroke-width="1" />
<line x1="682.30" y1="158.00" x2="680.10" y2="158.00" stroke="#444444" stroke-width="1" />
<line x1="496.50" y1="138.50" x2="498.70" y2="138.50" stroke="#444444" stroke-width="1" />
<line x1="682.30" y1="138.50" x2="680.10" y2="138.50" stroke="#444444" stroke-width="1" />
<line x1="496.50" y1="119.00" x2="498.70" y2="119.00" stroke="#444444" stroke-width="1" />
<line x1="682.30" y1="119.00" x2="680.10" y2="119.00" stroke="#444444" stroke-width="1" />
<line x1="496.50" y1="99.50" x2="498.70" y2="99.50" stroke="#444444" stroke-width="1" />
<line x1="682.30" y1="99.50" x2="680.10" y2="99.50" stroke="#444444" stroke-width="1" />
<line x1="496.50" y1="80.00" x2="498.70" y2="80.00" stroke="#444444" stroke-width="1" />
<line x1="682.30" y1="80.00" x2="680.10" y2="80.00" stroke="#444444" stroke-width="1" />
<line x1="496.50" y1="60.50" x2="498.70" y2="60.50" stroke="#444444" stroke-width="1" />
<line x1="682.30" y1="60.50" x2="680.10" y2="60.50" stroke="#444444" stroke-width="1" />
<line x1="496.50" y1="41.00" x2="498.70" y2="41.00" stroke="#444444" stroke-width="1" />
<line x1="682.30" y1="41.00" x2="680.10" y2="41.00" stroke="#444444" stroke-width="1" />
<line x1="496.50" y1="21.50" x2="498.70" y2="21.50" stroke="#444444" stroke-width="1" />
<line x1="682.30" y1="21.50" x2="680.10" y2="21.50" stroke="#444444" stroke-width="1" />
<rect x="496.50" y="21.50" width="185.80" height="136.50" fill="none" stroke="#444444" stroke-width="1.3"/>
<text x="496.50" y="172.00" font-family='"Liberation Sans", sans-serif' font-size="10" text-anchor="middle" font-weight="normal" fill="#262626" >0</text>
<text x="542.95" y="172.00" font-family='"Liberation Sans", sans-serif' font-size="10" text-anchor="middle" font-weight="normal" fill="#262626" >0.5</text>
<text x="589.40" y="172.00" font-family='"Liberation Sans", sans-serif' font-size="10" text-anchor="middle" font-weight="normal" fill="#262626" >1</text>
<text x="635.85" y="172.00" font-family='"Liberation Sans", sans-serif' font-size="10" text-anchor="middle" font-weight="normal" fill="#262626" >1.5</text>
<text x="682.30" y="172.00" font-family='"Liberation Sans", sans-serif' font-size="10" text-anchor="middle" font-weight="normal" fill="#262626" >2</text>
<text x="493.50" y="162.60" font-family='"Liberation Sans", sans-serif' font-size="10" text-anchor="end" font-weight="normal" fill="#262626" >0</text>
<text x="493.50" y="143.10" font-family='"Liberation Sans", sans-serif' font-size="10" text-anchor="end" font-weight="normal" fill="#262626" >0.2</text>
<text x="493.50" y="123.60" font-family='"Liberation Sans", sans-serif' font-size="10" text-anchor="end" font-weight="normal" fill="#262626" >0.4</text>
<text x="493.50" y="104.10" font-family='"Liberation Sans", sans-serif' font-size="10" text-anchor="end" font-weight="normal" fill="#262626" >0.6</text>
<text x="493.50" y="84.60" font-family='"Liberation Sans", sans-serif' font-size="10" text-anchor="end" font-weight="normal" fill="#262626" >0.8</text>
<text x="493.50" y="65.10" font-family='"Liberation Sans", sans-serif' font-size="10" text-anchor="end" font-weight="normal" fill="#262626" >1</text>
<text x="493.50" y="45.60" font-family='"Liberation Sans", sans-serif' font-size="10" text-anchor="end" font-weight="normal" fill="#262626" >1.2</text>
<text x="493.50" y="26.10" font-family='"Liberation Sans", sans-serif' font-size="10" text-anchor="end" font-weight="normal" fill="#262626" >1.4</text>
<circle cx="584.10" cy="35.80" r="7.6" fill="#7a1f8f"/>
<text x="584.10" y="39.70" font-family='"Liberation Sans", sans-serif' font-size="11" text-anchor="middle" font-weight="bold" fill="#ffffff" >4</text>
<circle cx="607.20" cy="48.20" r="7.6" fill="#1a99ff"/>
<text x="607.20" y="52.10" font-family='"Liberation Sans", sans-serif' font-size="11" text-anchor="middle" font-weight="bold" fill="#ffffff" >1</text>
<circle cx="625.30" cy="70.10" r="7.6" fill="#fa14aa"/>
<text x="625.30" y="74.00" font-family='"Liberation Sans", sans-serif' font-size="11" text-anchor="middle" font-weight="bold" fill="#ffffff" >2</text>
<circle cx="626.00" cy="93.60" r="7.6" fill="#fa6428"/>
<text x="626.00" y="97.50" font-family='"Liberation Sans", sans-serif' font-size="11" text-anchor="middle" font-weight="bold" fill="#ffffff" >3</text>
<g transform="translate(650.60,35.80)">
<text x="0.00" y="0.00" font-family='"Liberation Serif", serif' font-size="14.00" font-style="italic" fill="#1a1a1a" stroke="#1a1a1a" stroke-width="0.15">a</text>
<text x="7.00" y="3.36" font-family='"Liberation Serif", serif' font-size="10.08" font-style="italic" fill="#1a1a1a" stroke="#1a1a1a" stroke-width="0.15">c</text>
</g>
<line x1="656.50" y1="42.50" x2="656.50" y2="52.00" stroke="#000" stroke-width="1.2" />
<polygon points="656.50,59.60 653.90,51.00 659.10,51.00" fill="#000" />
<g transform="translate(589.00,184.90)">
<text x="-1.94" y="0.00" font-family='"Liberation Serif", serif' font-size="14.00" font-style="italic" fill="#262626" stroke="#262626" stroke-width="0.15">t</text>
<line x1="-1.56" y1="-9.66" x2="2.92" y2="-9.66" stroke="#262626" stroke-width="0.84"/>
</g>
<g transform="translate(471.70,91.50) rotate(-90)">
<text x="-27.50" y="0.65" font-family='"Liberation Serif", serif' font-size="15.60" fill="#262626" stroke="#262626" stroke-width="0.15" textLength="4.16" lengthAdjust="spacingAndGlyphs">|</text>
<text x="-23.34" y="0.00" font-family='"Liberation Serif", serif' font-size="13.00" font-style="italic" fill="#262626" stroke="#262626" stroke-width="0.15" textLength="8.65" lengthAdjust="spacingAndGlyphs">d</text>
<text x="-14.70" y="-4.94" font-family='"Liberation Serif", serif' font-size="9.10" fill="#262626" stroke="#262626" stroke-width="0.15" textLength="6.05" lengthAdjust="spacingAndGlyphs">2</text>
<text x="-8.64" y="0.00" font-family='"Liberation Serif", serif' font-size="13.00" font-style="italic" fill="#262626" stroke="#262626" stroke-width="0.15" textLength="7.68" lengthAdjust="spacingAndGlyphs">x</text>
<line x1="-6.72" y1="-9.36" x2="-1.35" y2="-9.36" stroke="#262626" stroke-width="0.78"/>
<text x="-0.97" y="0.00" font-family='"Liberation Serif", serif' font-size="13.00" fill="#262626" stroke="#262626" stroke-width="0.15" textLength="4.81" lengthAdjust="spacingAndGlyphs">/</text>
<text x="3.84" y="0.00" font-family='"Liberation Serif", serif' font-size="13.00" font-style="italic" fill="#262626" stroke="#262626" stroke-width="0.15" textLength="8.65" lengthAdjust="spacingAndGlyphs">d</text>
<text x="12.49" y="0.00" font-family='"Liberation Serif", serif' font-size="13.00" font-style="italic" fill="#262626" stroke="#262626" stroke-width="0.15" textLength="4.81" lengthAdjust="spacingAndGlyphs">t</text>
<line x1="13.69" y1="-12.35" x2="17.05" y2="-12.35" stroke="#262626" stroke-width="0.78"/>
<text x="17.29" y="-4.94" font-family='"Liberation Serif", serif' font-size="9.10" fill="#262626" stroke="#262626" stroke-width="0.15" textLength="6.05" lengthAdjust="spacingAndGlyphs">2</text>
<text x="23.34" y="0.65" font-family='"Liberation Serif", serif' font-size="15.60" fill="#262626" stroke="#262626" stroke-width="0.15" textLength="4.16" lengthAdjust="spacingAndGlyphs">|</text>
</g>
<text x="591.50" y="14.50" font-family='"Liberation Sans", sans-serif' font-size="20" text-anchor="middle" font-weight="bold" fill="#000" >c</text>
<polyline points="139.10,353.40 139.17,352.70 139.26,351.77 139.36,350.65 139.48,349.42 139.60,348.12 139.74,346.83 139.87,345.59 140.01,344.46 140.15,343.41 140.28,342.37 140.42,341.35 140.56,340.34 140.71,339.36 140.89,338.41 141.08,337.50 141.29,336.64 141.53,335.81 141.78,334.99 142.04,334.21 142.33,333.46 142.63,332.76 142.95,332.12 143.30,331.55 143.66,331.05 144.05,330.63 144.46,330.28 144.90,329.99 145.35,329.76 145.82,329.58 146.31,329.47 146.80,329.40 147.31,329.37 147.83,329.42 148.37,329.54 148.92,329.73 149.48,329.97 150.06,330.23 150.65,330.51 151.25,330.79 151.88,331.05 152.50,331.30 153.14,331.57 153.78,331.85 154.44,332.13 155.12,332.42 155.83,332.71 156.57,333.00 157.35,333.28 158.15,333.57 158.96,333.88 159.79,334.18 160.66,334.49 161.56,334.78 162.53,335.06 163.55,335.30 164.65,335.52 165.79,335.70 166.96,335.85 168.17,335.98 169.44,336.09 170.80,336.19 172.26,336.27 173.86,336.34 175.60,336.41 177.53,336.48 179.65,336.54 181.91,336.58 184.27,336.62 186.69,336.64 189.12,336.65 191.52,336.65 193.85,336.64 196.13,336.61 198.41,336.58 200.69,336.53 202.98,336.48 205.26,336.40 207.54,336.32 209.82,336.21 212.10,336.08 214.42,335.93 216.80,335.78 219.19,335.61 221.58,335.42 223.92,335.20 226.19,334.97 228.34,334.70 230.35,334.40 232.18,334.08 233.85,333.75 235.41,333.39 236.89,333.00 238.34,332.58 239.80,332.12 241.32,331.61 242.94,331.05 244.71,330.41 246.60,329.69 248.55,328.90 250.52,328.08 252.43,327.26 254.25,326.45 255.91,325.70 257.36,325.02 258.58,324.42 259.62,323.91 260.51,323.43 261.30,322.98 262.01,322.53 262.69,322.04 263.38,321.50 264.11,320.88 264.87,320.18 265.61,319.43 266.34,318.64 267.04,317.81 267.72,316.96 268.38,316.08 269.00,315.19 269.59,314.29 270.12,313.41 270.58,312.55 271.00,311.69 271.40,310.81 271.80,309.87 272.23,308.85 272.70,307.72 273.24,306.46 273.85,305.07 274.52,303.56 275.23,301.96 275.96,300.27 276.71,298.51 277.46,296.69 278.19,294.83 278.89,292.94 279.59,290.96 280.30,288.85 281.00,286.65 281.70,284.42 282.38,282.19 283.03,280.03 283.63,277.97 284.19,276.07 284.69,274.29 285.15,272.56 285.57,270.91 285.96,269.33 286.32,267.84 286.66,266.45 286.98,265.17 287.29,264.00 287.58,262.98 287.84,262.12 288.08,261.37 288.30,260.72 288.51,260.12 288.71,259.56 288.91,259.00 289.12,258.41 289.35,257.78 289.61,257.14 289.89,256.50 290.15,255.88 290.38,255.32 290.55,254.83 290.66,254.44 290.67,254.17 290.54,254.08 290.29,254.18 289.95,254.41 289.57,254.70 289.17,254.97 288.82,255.17 288.54,255.22 288.38,255.06 288.35,254.63 288.41,253.99 288.53,253.19 288.70,252.32 288.88,251.44 289.06,250.63 289.21,249.95 289.30,249.47" fill="none" stroke="#7b8266" stroke-width="2" stroke-dasharray="5 3.5" stroke-linejoin="round" />
<polyline points="139.10,353.40 139.23,353.01 139.39,352.53 139.57,351.96 139.78,351.30 140.03,350.56 140.30,349.73 140.60,348.82 140.92,347.81 141.29,346.67 141.68,345.35 142.10,343.92 142.56,342.42 143.03,340.89 143.53,339.39 144.05,337.95 144.57,336.64 145.13,335.42 145.73,334.24 146.36,333.11 147.00,332.01 147.65,330.95 148.29,329.92 148.91,328.91 149.50,327.92 150.05,326.94 150.57,325.97 151.07,325.01 151.57,324.09 152.06,323.21 152.58,322.39 153.12,321.65 153.70,320.99 154.31,320.41 154.94,319.89 155.58,319.42 156.24,319.02 156.93,318.70 157.65,318.45 158.39,318.28 159.18,318.20 159.99,318.24 160.84,318.40 161.72,318.67 162.63,319.00 163.56,319.37 164.52,319.76 165.49,320.12 166.47,320.43 167.48,320.74 168.50,321.08 169.55,321.44 170.62,321.80 171.70,322.12 172.80,322.39 173.92,322.58 175.05,322.67 176.21,322.65 177.41,322.54 178.62,322.35 179.85,322.11 181.09,321.83 182.32,321.54 183.53,321.26 184.72,320.99 185.87,320.74 186.97,320.46 188.04,320.17 189.12,319.87 190.21,319.57 191.35,319.28 192.56,319.01 193.85,318.76 195.22,318.54 196.64,318.36 198.10,318.20 199.62,318.04 201.19,317.87 202.82,317.69 204.51,317.46 206.26,317.19 208.10,316.89 210.05,316.57 212.07,316.24 214.14,315.87 216.23,315.47 218.31,315.02 220.35,314.52 222.32,313.95 224.25,313.30 226.19,312.58 228.11,311.79 230.01,310.96 231.87,310.10 233.68,309.24 235.43,308.39 237.10,307.58 238.72,306.81 240.29,306.06 241.82,305.32 243.28,304.58 244.69,303.82 246.02,303.04 247.26,302.21 248.42,301.32 249.45,300.40 250.37,299.45 251.18,298.48 251.93,297.47 252.64,296.42 253.34,295.32 254.05,294.16 254.81,292.94 255.59,291.66 256.37,290.31 257.15,288.91 257.92,287.46 258.69,285.97 259.46,284.44 260.24,282.89 261.01,281.32 261.80,279.67 262.61,277.91 263.43,276.08 264.24,274.24 265.04,272.43 265.80,270.70 266.54,269.11 267.22,267.69 267.86,266.44 268.48,265.33 269.07,264.32 269.63,263.41 270.15,262.57 270.63,261.78 271.05,261.04 271.41,260.31 271.68,259.69 271.85,259.23 271.95,258.85 272.02,258.51 272.07,258.13 272.15,257.66 272.29,257.03 272.51,256.18 272.84,255.00 273.25,253.53 273.72,251.86 274.22,250.11 274.70,248.39 275.15,246.82 275.52,245.50 275.79,244.56" fill="none" stroke="#1e9bff" stroke-width="2" stroke-dasharray="5 3.5" stroke-linejoin="round" />
<polyline points="139.10,353.40 139.20,352.98 139.33,352.45 139.48,351.81 139.65,351.10 139.84,350.32 140.06,349.50 140.30,348.66 140.56,347.81 140.86,346.95 141.19,346.04 141.55,345.09 141.93,344.11 142.32,343.10 142.72,342.08 143.11,341.04 143.48,339.99 143.84,338.93 144.19,337.86 144.54,336.77 144.89,335.66 145.25,334.53 145.62,333.39 146.00,332.23 146.40,331.05 146.80,329.80 147.20,328.47 147.60,327.09 148.02,325.70 148.46,324.35 148.94,323.09 149.47,321.96 150.05,320.99 150.71,320.19 151.46,319.50 152.25,318.91 153.08,318.42 153.92,318.02 154.75,317.68 155.53,317.41 156.25,317.19 156.92,317.06 157.54,317.03 158.13,317.09 158.70,317.21 159.26,317.37 159.82,317.55 160.40,317.72 161.00,317.86 161.59,318.00 162.15,318.17 162.70,318.35 163.26,318.54 163.86,318.72 164.52,318.88 165.26,319.01 166.11,319.09 167.08,319.13 168.14,319.15 169.28,319.14 170.49,319.11 171.74,319.05 173.02,318.97 174.31,318.87 175.60,318.76 176.88,318.62 178.18,318.45 179.50,318.25 180.85,318.04 182.22,317.81 183.62,317.57 185.07,317.33 186.55,317.08 188.08,316.82 189.66,316.53 191.27,316.23 192.91,315.91 194.59,315.61 196.28,315.32 197.98,315.07 199.69,314.85 201.42,314.70 203.18,314.63 204.97,314.60 206.77,314.59 208.58,314.55 210.38,314.45 212.16,314.26 213.93,313.95 215.66,313.52 217.39,313.00 219.11,312.40 220.81,311.73 222.52,311.02 224.22,310.26 225.91,309.49 227.61,308.70 229.35,307.90 231.15,307.08 232.96,306.23 234.76,305.34 236.52,304.41 238.18,303.44 239.73,302.41 241.12,301.32 242.33,300.18 243.40,298.97 244.35,297.71 245.21,296.40 246.02,295.05 246.80,293.67 247.59,292.26 248.42,290.82 249.26,289.37 250.08,287.91 250.89,286.42 251.68,284.90 252.46,283.32 253.24,281.69 254.02,279.98 254.81,278.19 255.60,276.31 256.39,274.34 257.19,272.31 257.98,270.21 258.76,268.06 259.53,265.87 260.28,263.66 261.01,261.43 261.75,259.03 262.52,256.39 263.29,253.63 264.04,250.88 264.75,248.26 265.37,245.90 265.90,243.91 266.30,242.43" fill="none" stroke="#b01a3c" stroke-width="2" stroke-dasharray="5 3.5" stroke-linejoin="round" />
<polyline points="139.10,353.40 139.10,350.46 139.10,350.39 139.10,350.31 139.10,350.23 139.10,350.15 139.10,350.07 139.10,349.98 139.10,349.90 139.11,349.81 139.11,349.72 139.11,349.63 139.11,349.53 139.11,349.43 139.11,349.33 139.11,349.23 139.11,349.12 139.12,349.02 139.12,348.91 139.12,348.79 139.13,348.68 139.13,348.56 139.13,348.43 139.14,348.31 139.14,348.18 139.15,348.05 139.16,347.91 139.17,347.77 139.18,347.63 139.19,347.49 139.20,347.34 139.22,347.18 139.23,347.03 139.25,346.87 139.28,346.70 139.30,346.53 139.33,346.36 139.37,346.18 139.41,346.00 139.45,345.81 139.51,345.62 139.57,345.42 139.64,345.22 139.72,345.01 139.81,344.80 139.91,344.59 140.03,344.36 140.17,344.13 140.33,343.90 140.52,343.66 140.73,343.41 140.97,343.16 141.25,342.90 141.56,342.64 141.93,342.37 142.35,342.09 142.84,341.80 143.39,341.51 144.03,341.21 144.76,340.90 145.60,340.58 146.57,340.26 147.68,339.93 148.96,339.59 150.42,339.24 152.11,338.88 154.04,338.52 156.26,338.14 158.81,337.75 161.74,337.36 165.11,336.95 168.98,336.54 173.42,336.11 178.52,335.67 184.38,335.23 191.12,334.77 198.85,334.30 207.73,333.81 217.94,333.32 229.66,332.81 243.12,332.29" fill="none" stroke="#3d4a2e" stroke-width="2" stroke-linejoin="round" />
<polyline points="139.10,353.40 139.10,347.70 139.10,347.56 139.10,347.41 139.10,347.26 139.10,347.10 139.10,346.94 139.10,346.78 139.10,346.61 139.11,346.44 139.11,346.26 139.11,346.08 139.11,345.90 139.11,345.71 139.11,345.51 139.11,345.31 139.11,345.10 139.12,344.89 139.12,344.68 139.12,344.46 139.13,344.23 139.13,344.00 139.13,343.76 139.14,343.52 139.14,343.26 139.15,343.01 139.16,342.74 139.17,342.47 139.18,342.20 139.19,341.91 139.20,341.62 139.22,341.32 139.24,341.02 139.26,340.70 139.28,340.38 139.31,340.05 139.34,339.71 139.37,339.36 139.41,339.01 139.46,338.64 139.51,338.27 139.58,337.89 139.65,337.49 139.73,337.09 139.82,336.68 139.93,336.25 140.06,335.82 140.20,335.37 140.36,334.91 140.55,334.45 140.77,333.96 141.02,333.47 141.30,332.97 141.63,332.45 142.01,331.92 142.44,331.37 142.94,330.81 143.51,330.24 144.17,329.65 144.93,329.05 145.80,328.43 146.80,327.80 147.95,327.15 149.27,326.49 150.78,325.80 152.53,325.10 154.53,324.39 156.84,323.65 159.48,322.90 162.53,322.12 166.02,321.33 170.04,320.52 174.66,319.68 179.97,318.83 186.07,317.95 193.08,317.05 201.14,316.13 210.40,315.19 221.04,314.22 233.27,313.22 247.32,312.20" fill="none" stroke="#1f3d6e" stroke-width="2" stroke-linejoin="round" />
<polyline points="139.10,353.40 139.10,347.67 139.10,347.53 139.10,347.39 139.10,347.24 139.10,347.08 139.10,346.92 139.10,346.76 139.10,346.60 139.11,346.43 139.11,346.25 139.11,346.08 139.11,345.89 139.11,345.71 139.11,345.52 139.11,345.32 139.11,345.12 139.12,344.91 139.12,344.70 139.12,344.48 139.12,344.26 139.13,344.03 139.13,343.80 139.14,343.56 139.14,343.32 139.15,343.06 139.16,342.81 139.16,342.54 139.17,342.27 139.18,342.00 139.20,341.71 139.21,341.42 139.23,341.12 139.24,340.82 139.27,340.50 139.29,340.18 139.32,339.85 139.35,339.51 139.39,339.17 139.43,338.81 139.48,338.45 139.53,338.08 139.60,337.70 139.67,337.31 139.75,336.90 139.85,336.49 139.96,336.07 140.08,335.64 140.23,335.20 140.39,334.75 140.58,334.28 140.80,333.80 141.05,333.32 141.33,332.82 141.66,332.30 142.03,331.78 142.46,331.24 142.95,330.69 143.52,330.12 144.17,329.54 144.91,328.95 145.76,328.34 146.73,327.71 147.85,327.07 149.14,326.42 150.61,325.74 152.29,325.06 154.22,324.35 156.44,323.63 158.98,322.88 161.89,322.12 165.23,321.34 169.06,320.55 173.45,319.73 178.48,318.89 184.25,318.03 190.86,317.15 198.44,316.24 207.13,315.32 217.10,314.37 228.53,313.40" fill="none" stroke="#72193c" stroke-width="2" stroke-linejoin="round" />
<line x1="139.10" y1="353.40" x2="139.10" y2="351.20" stroke="#444444" stroke-width="1" />
<line x1="139.10" y1="219.30" x2="139.10" y2="221.50" stroke="#444444" stroke-width="1" />
<line x1="175.60" y1="353.40" x2="175.60" y2="351.20" stroke="#444444" stroke-width="1" />
<line x1="175.60" y1="219.30" x2="175.60" y2="221.50" stroke="#444444" stroke-width="1" />
<line x1="212.10" y1="353.40" x2="212.10" y2="351.20" stroke="#444444" stroke-width="1" />
<line x1="212.10" y1="219.30" x2="212.10" y2="221.50" stroke="#444444" stroke-width="1" />
<line x1="248.60" y1="353.40" x2="248.60" y2="351.20" stroke="#444444" stroke-width="1" />
<line x1="248.60" y1="219.30" x2="248.60" y2="221.50" stroke="#444444" stroke-width="1" />
<line x1="285.10" y1="353.40" x2="285.10" y2="351.20" stroke="#444444" stroke-width="1" />
<line x1="285.10" y1="219.30" x2="285.10" y2="221.50" stroke="#444444" stroke-width="1" />
<line x1="321.60" y1="353.40" x2="321.60" y2="351.20" stroke="#444444" stroke-width="1" />
<line x1="321.60" y1="219.30" x2="321.60" y2="221.50" stroke="#444444" stroke-width="1" />
<line x1="139.10" y1="353.40" x2="141.30" y2="353.40" stroke="#444444" stroke-width="1" />
<line x1="321.60" y1="353.40" x2="319.40" y2="353.40" stroke="#444444" stroke-width="1" />
<line x1="139.10" y1="331.05" x2="141.30" y2="331.05" stroke="#444444" stroke-width="1" />
<line x1="321.60" y1="331.05" x2="319.40" y2="331.05" stroke="#444444" stroke-width="1" />
<line x1="139.10" y1="308.70" x2="141.30" y2="308.70" stroke="#444444" stroke-width="1" />
<line x1="321.60" y1="308.70" x2="319.40" y2="308.70" stroke="#444444" stroke-width="1" />
<line x1="139.10" y1="286.35" x2="141.30" y2="286.35" stroke="#444444" stroke-width="1" />
<line x1="321.60" y1="286.35" x2="319.40" y2="286.35" stroke="#444444" stroke-width="1" />
<line x1="139.10" y1="264.00" x2="141.30" y2="264.00" stroke="#444444" stroke-width="1" />
<line x1="321.60" y1="264.00" x2="319.40" y2="264.00" stroke="#444444" stroke-width="1" />
<line x1="139.10" y1="241.65" x2="141.30" y2="241.65" stroke="#444444" stroke-width="1" />
<line x1="321.60" y1="241.65" x2="319.40" y2="241.65" stroke="#444444" stroke-width="1" />
<line x1="139.10" y1="219.30" x2="141.30" y2="219.30" stroke="#444444" stroke-width="1" />
<line x1="321.60" y1="219.30" x2="319.40" y2="219.30" stroke="#444444" stroke-width="1" />
<rect x="139.10" y="219.30" width="182.50" height="134.10" fill="none" stroke="#444444" stroke-width="1.3"/>
<text x="139.10" y="366.80" font-family='"Liberation Sans", sans-serif' font-size="9.5" text-anchor="middle" font-weight="normal" fill="#262626" >0</text>
<text x="175.60" y="366.80" font-family='"Liberation Sans", sans-serif' font-size="9.5" text-anchor="middle" font-weight="normal" fill="#262626" >0.2</text>
<text x="212.10" y="366.80" font-family='"Liberation Sans", sans-serif' font-size="9.5" text-anchor="middle" font-weight="normal" fill="#262626" >0.4</text>
<text x="248.60" y="366.80" font-family='"Liberation Sans", sans-serif' font-size="9.5" text-anchor="middle" font-weight="normal" fill="#262626" >0.6</text>
<text x="285.10" y="366.80" font-family='"Liberation Sans", sans-serif' font-size="9.5" text-anchor="middle" font-weight="normal" fill="#262626" >0.8</text>
<text x="321.60" y="366.80" font-family='"Liberation Sans", sans-serif' font-size="9.5" text-anchor="middle" font-weight="normal" fill="#262626" >1</text>
<text x="136.10" y="357.70" font-family='"Liberation Sans", sans-serif' font-size="9.5" text-anchor="end" font-weight="normal" fill="#262626" >0</text>
<text x="136.10" y="335.35" font-family='"Liberation Sans", sans-serif' font-size="9.5" text-anchor="end" font-weight="normal" fill="#262626" >0.2</text>
<text x="136.10" y="313.00" font-family='"Liberation Sans", sans-serif' font-size="9.5" text-anchor="end" font-weight="normal" fill="#262626" >0.4</text>
<text x="136.10" y="290.65" font-family='"Liberation Sans", sans-serif' font-size="9.5" text-anchor="end" font-weight="normal" fill="#262626" >0.6</text>
<text x="136.10" y="268.30" font-family='"Liberation Sans", sans-serif' font-size="9.5" text-anchor="end" font-weight="normal" fill="#262626" >0.8</text>
<text x="136.10" y="245.95" font-family='"Liberation Sans", sans-serif' font-size="9.5" text-anchor="end" font-weight="normal" fill="#262626" >1</text>
<text x="136.10" y="223.60" font-family='"Liberation Sans", sans-serif' font-size="9.5" text-anchor="end" font-weight="normal" fill="#262626" >1.2</text>
<line x1="144.80" y1="229.80" x2="151.60" y2="229.80" stroke="#7b8266" stroke-width="2" />
<line x1="157.60" y1="229.80" x2="160.80" y2="229.80" stroke="#7b8266" stroke-width="2" />
<line x1="144.80" y1="241.30" x2="151.60" y2="241.30" stroke="#1e9bff" stroke-width="2" />
<line x1="157.60" y1="241.30" x2="160.80" y2="241.30" stroke="#1e9bff" stroke-width="2" />
<line x1="144.80" y1="252.40" x2="151.60" y2="252.40" stroke="#b01a3c" stroke-width="2" />
<line x1="157.60" y1="252.40" x2="160.80" y2="252.40" stroke="#b01a3c" stroke-width="2" />
<g transform="translate(161.20,233.30)">
<text x="0.00" y="0.00" font-family='"Liberation Serif", serif' font-size="9.50" fill="#1a1a1a" textLength="15.43" lengthAdjust="spacingAndGlyphs">0.1 </text>
<text x="15.43" y="0.00" font-family='"Liberation Serif", serif' font-size="9.50" font-style="italic" fill="#1a1a1a" textLength="4.00" lengthAdjust="spacingAndGlyphs">s</text>
<text x="19.44" y="-3.80" font-family='"Liberation Serif", serif' font-size="6.65" fill="#1a1a1a" textLength="7.66" lengthAdjust="spacingAndGlyphs">−1</text>
<text x="27.10" y="0.00" font-family='"Liberation Serif", serif' font-size="9.50" fill="#1a1a1a" textLength="31.72" lengthAdjust="spacingAndGlyphs">  (0.209</text>
<text x="58.82" y="0.00" font-family='"Liberation Serif", serif' font-size="9.50" font-style="italic" fill="#1a1a1a" textLength="4.14" lengthAdjust="spacingAndGlyphs">ϵ</text>
<text x="62.97" y="-3.80" font-family='"Liberation Serif", serif' font-size="6.65" fill="#1a1a1a" textLength="12.60" lengthAdjust="spacingAndGlyphs">0.18</text>
<text x="75.57" y="0.00" font-family='"Liberation Serif", serif' font-size="9.50" fill="#1a1a1a" textLength="3.43" lengthAdjust="spacingAndGlyphs">)</text>
</g>
<g transform="translate(161.20,244.80)">
<text x="0.00" y="0.00" font-family='"Liberation Serif", serif' font-size="9.50" fill="#1a1a1a" textLength="22.88" lengthAdjust="spacingAndGlyphs">2200 </text>
<text x="22.88" y="0.00" font-family='"Liberation Serif", serif' font-size="9.50" font-style="italic" fill="#1a1a1a" textLength="3.96" lengthAdjust="spacingAndGlyphs">s</text>
<text x="26.84" y="-3.80" font-family='"Liberation Serif", serif' font-size="6.65" fill="#1a1a1a" textLength="7.57" lengthAdjust="spacingAndGlyphs">−1</text>
<text x="34.41" y="0.00" font-family='"Liberation Serif", serif' font-size="9.50" fill="#1a1a1a" textLength="31.35" lengthAdjust="spacingAndGlyphs">  (0.405</text>
<text x="65.76" y="0.00" font-family='"Liberation Serif", serif' font-size="9.50" font-style="italic" fill="#1a1a1a" textLength="4.10" lengthAdjust="spacingAndGlyphs">ϵ</text>
<text x="69.86" y="-3.80" font-family='"Liberation Serif", serif' font-size="6.65" fill="#1a1a1a" textLength="12.46" lengthAdjust="spacingAndGlyphs">0.18</text>
<text x="82.31" y="0.00" font-family='"Liberation Serif", serif' font-size="9.50" fill="#1a1a1a" textLength="3.39" lengthAdjust="spacingAndGlyphs">)</text>
</g>
<g transform="translate(161.20,255.90)">
<text x="0.00" y="0.00" font-family='"Liberation Serif", serif' font-size="9.50" fill="#1a1a1a" textLength="22.88" lengthAdjust="spacingAndGlyphs">2800 </text>
<text x="22.88" y="0.00" font-family='"Liberation Serif", serif' font-size="9.50" font-style="italic" fill="#1a1a1a" textLength="3.96" lengthAdjust="spacingAndGlyphs">s</text>
<text x="26.84" y="-3.80" font-family='"Liberation Serif", serif' font-size="6.65" fill="#1a1a1a" textLength="7.57" lengthAdjust="spacingAndGlyphs">−1</text>
<text x="34.41" y="0.00" font-family='"Liberation Serif", serif' font-size="9.50" fill="#1a1a1a" textLength="31.35" lengthAdjust="spacingAndGlyphs">  (0.407</text>
<text x="65.76" y="0.00" font-family='"Liberation Serif", serif' font-size="9.50" font-style="italic" fill="#1a1a1a" textLength="4.10" lengthAdjust="spacingAndGlyphs">ϵ</text>
<text x="69.86" y="-3.80" font-family='"Liberation Serif", serif' font-size="6.65" fill="#1a1a1a" textLength="12.46" lengthAdjust="spacingAndGlyphs">0.18</text>
<text x="82.31" y="0.00" font-family='"Liberation Serif", serif' font-size="9.50" fill="#1a1a1a" textLength="3.39" lengthAdjust="spacingAndGlyphs">)</text>
</g>
<text x="230.80" y="380.50" font-family='"Liberation Sans", sans-serif' font-size="13" text-anchor="middle" font-weight="normal" fill="#000" stroke="#000" stroke-width="0.2" >Strain</text>
<text x="118.60" y="285.60" font-family='"Liberation Sans", sans-serif' font-size="13" text-anchor="middle" font-weight="normal" fill="#000" stroke="#000" stroke-width="0.2" transform="rotate(-90 118.6 285.6)">Stress [MPa]</text>
<text x="227.00" y="212.50" font-family='"Liberation Sans", sans-serif' font-size="20" text-anchor="middle" font-weight="bold" fill="#000" >d</text>
<polygon points="403.60,218.60 403.60,242.20 525.30,294.80 556.70,218.60" fill="#7a8068" fill-opacity="0.22"/>
<polyline points="403.60,242.20 525.30,294.80 556.70,218.60" fill="none" stroke="#7a8068" stroke-width="2" stroke-linejoin="round" />
<polygon points="403.60,218.60 403.60,256.00 495.00,294.80 527.00,218.60" fill="#1a99ff" fill-opacity="0.2"/>
<polyline points="403.60,256.00 495.00,294.80 527.00,218.60" fill="none" stroke="#1a99ff" stroke-width="2" stroke-linejoin="round" />
<line x1="477.20" y1="277.00" x2="477.20" y2="353.30" stroke="#000" stroke-width="1.1" stroke-dasharray="5 1.6 1 1.6" />
<line x1="507.00" y1="271.00" x2="507.00" y2="353.30" stroke="#000" stroke-width="1.1" stroke-dasharray="5 1.6 1 1.6" />
<circle cx="477.1" cy="274.3" r="3.1" fill="#fff" stroke="#7a8068" stroke-width="1.5"/>
<circle cx="477.1" cy="286.6" r="3.1" fill="#fff" stroke="#1a99ff" stroke-width="1.5"/>
<circle cx="506.8" cy="267.9" r="3.1" fill="#fff" stroke="#1a99ff" stroke-width="1.5"/>
<circle cx="506.8" cy="286.6" r="3.1" fill="#fff" stroke="#7a8068" stroke-width="1.5"/>
<line x1="403.60" y1="353.30" x2="403.60" y2="351.10" stroke="#444444" stroke-width="1" />
<line x1="403.60" y1="218.60" x2="403.60" y2="220.80" stroke="#444444" stroke-width="1" />
<line x1="508.78" y1="353.30" x2="508.78" y2="351.10" stroke="#444444" stroke-width="1" />
<line x1="508.78" y1="218.60" x2="508.78" y2="220.80" stroke="#444444" stroke-width="1" />
<line x1="582.30" y1="353.30" x2="582.30" y2="351.10" stroke="#444444" stroke-width="1" />
<line x1="582.30" y1="218.60" x2="582.30" y2="220.80" stroke="#444444" stroke-width="1" />
<line x1="403.60" y1="353.30" x2="405.80" y2="353.30" stroke="#444444" stroke-width="1" />
<line x1="582.30" y1="353.30" x2="580.10" y2="353.30" stroke="#444444" stroke-width="1" />
<line x1="403.60" y1="308.40" x2="405.80" y2="308.40" stroke="#444444" stroke-width="1" />
<line x1="582.30" y1="308.40" x2="580.10" y2="308.40" stroke="#444444" stroke-width="1" />
<line x1="403.60" y1="263.50" x2="405.80" y2="263.50" stroke="#444444" stroke-width="1" />
<line x1="582.30" y1="263.50" x2="580.10" y2="263.50" stroke="#444444" stroke-width="1" />
<line x1="403.60" y1="218.60" x2="405.80" y2="218.60" stroke="#444444" stroke-width="1" />
<line x1="582.30" y1="218.60" x2="580.10" y2="218.60" stroke="#444444" stroke-width="1" />
<line x1="435.26" y1="353.30" x2="435.26" y2="351.98" stroke="#444444" stroke-width="0.8" />
<line x1="435.26" y1="218.60" x2="435.26" y2="219.92" stroke="#444444" stroke-width="0.8" />
<line x1="453.78" y1="353.30" x2="453.78" y2="351.98" stroke="#444444" stroke-width="0.8" />
<line x1="453.78" y1="218.60" x2="453.78" y2="219.92" stroke="#444444" stroke-width="0.8" />
<line x1="466.93" y1="353.30" x2="466.93" y2="351.98" stroke="#444444" stroke-width="0.8" />
<line x1="466.93" y1="218.60" x2="466.93" y2="219.92" stroke="#444444" stroke-width="0.8" />
<line x1="477.12" y1="353.30" x2="477.12" y2="351.98" stroke="#444444" stroke-width="0.8" />
<line x1="477.12" y1="218.60" x2="477.12" y2="219.92" stroke="#444444" stroke-width="0.8" />
<line x1="485.45" y1="353.30" x2="485.45" y2="351.98" stroke="#444444" stroke-width="0.8" />
<line x1="485.45" y1="218.60" x2="485.45" y2="219.92" stroke="#444444" stroke-width="0.8" />
<line x1="492.49" y1="353.30" x2="492.49" y2="351.98" stroke="#444444" stroke-width="0.8" />
<line x1="492.49" y1="218.60" x2="492.49" y2="219.92" stroke="#444444" stroke-width="0.8" />
<line x1="498.59" y1="353.30" x2="498.59" y2="351.98" stroke="#444444" stroke-width="0.8" />
<line x1="498.59" y1="218.60" x2="498.59" y2="219.92" stroke="#444444" stroke-width="0.8" />
<line x1="503.97" y1="353.30" x2="503.97" y2="351.98" stroke="#444444" stroke-width="0.8" />
<line x1="503.97" y1="218.60" x2="503.97" y2="219.92" stroke="#444444" stroke-width="0.8" />
<line x1="540.44" y1="353.30" x2="540.44" y2="351.98" stroke="#444444" stroke-width="0.8" />
<line x1="540.44" y1="218.60" x2="540.44" y2="219.92" stroke="#444444" stroke-width="0.8" />
<line x1="558.97" y1="353.30" x2="558.97" y2="351.98" stroke="#444444" stroke-width="0.8" />
<line x1="558.97" y1="218.60" x2="558.97" y2="219.92" stroke="#444444" stroke-width="0.8" />
<line x1="572.11" y1="353.30" x2="572.11" y2="351.98" stroke="#444444" stroke-width="0.8" />
<line x1="572.11" y1="218.60" x2="572.11" y2="219.92" stroke="#444444" stroke-width="0.8" />
<line x1="403.60" y1="339.78" x2="404.92" y2="339.78" stroke="#444444" stroke-width="0.8" />
<line x1="582.30" y1="339.78" x2="580.98" y2="339.78" stroke="#444444" stroke-width="0.8" />
<line x1="403.60" y1="331.88" x2="404.92" y2="331.88" stroke="#444444" stroke-width="0.8" />
<line x1="582.30" y1="331.88" x2="580.98" y2="331.88" stroke="#444444" stroke-width="0.8" />
<line x1="403.60" y1="326.27" x2="404.92" y2="326.27" stroke="#444444" stroke-width="0.8" />
<line x1="582.30" y1="326.27" x2="580.98" y2="326.27" stroke="#444444" stroke-width="0.8" />
<line x1="403.60" y1="321.92" x2="404.92" y2="321.92" stroke="#444444" stroke-width="0.8" />
<line x1="582.30" y1="321.92" x2="580.98" y2="321.92" stroke="#444444" stroke-width="0.8" />
<line x1="403.60" y1="318.36" x2="404.92" y2="318.36" stroke="#444444" stroke-width="0.8" />
<line x1="582.30" y1="318.36" x2="580.98" y2="318.36" stroke="#444444" stroke-width="0.8" />
<line x1="403.60" y1="315.36" x2="404.92" y2="315.36" stroke="#444444" stroke-width="0.8" />
<line x1="582.30" y1="315.36" x2="580.98" y2="315.36" stroke="#444444" stroke-width="0.8" />
<line x1="403.60" y1="312.75" x2="404.92" y2="312.75" stroke="#444444" stroke-width="0.8" />
<line x1="582.30" y1="312.75" x2="580.98" y2="312.75" stroke="#444444" stroke-width="0.8" />
<line x1="403.60" y1="310.45" x2="404.92" y2="310.45" stroke="#444444" stroke-width="0.8" />
<line x1="582.30" y1="310.45" x2="580.98" y2="310.45" stroke="#444444" stroke-width="0.8" />
<line x1="403.60" y1="294.88" x2="404.92" y2="294.88" stroke="#444444" stroke-width="0.8" />
<line x1="582.30" y1="294.88" x2="580.98" y2="294.88" stroke="#444444" stroke-width="0.8" />
<line x1="403.60" y1="286.98" x2="404.92" y2="286.98" stroke="#444444" stroke-width="0.8" />
<line x1="582.30" y1="286.98" x2="580.98" y2="286.98" stroke="#444444" stroke-width="0.8" />
<line x1="403.60" y1="281.37" x2="404.92" y2="281.37" stroke="#444444" stroke-width="0.8" />
<line x1="582.30" y1="281.37" x2="580.98" y2="281.37" stroke="#444444" stroke-width="0.8" />
<line x1="403.60" y1="277.02" x2="404.92" y2="277.02" stroke="#444444" stroke-width="0.8" />
<line x1="582.30" y1="277.02" x2="580.98" y2="277.02" stroke="#444444" stroke-width="0.8" />
<line x1="403.60" y1="273.46" x2="404.92" y2="273.46" stroke="#444444" stroke-width="0.8" />
<line x1="582.30" y1="273.46" x2="580.98" y2="273.46" stroke="#444444" stroke-width="0.8" />
<line x1="403.60" y1="270.46" x2="404.92" y2="270.46" stroke="#444444" stroke-width="0.8" />
<line x1="582.30" y1="270.46" x2="580.98" y2="270.46" stroke="#444444" stroke-width="0.8" />
<line x1="403.60" y1="267.85" x2="404.92" y2="267.85" stroke="#444444" stroke-width="0.8" />
<line x1="582.30" y1="267.85" x2="580.98" y2="267.85" stroke="#444444" stroke-width="0.8" />
<line x1="403.60" y1="265.55" x2="404.92" y2="265.55" stroke="#444444" stroke-width="0.8" />
<line x1="582.30" y1="265.55" x2="580.98" y2="265.55" stroke="#444444" stroke-width="0.8" />
<line x1="403.60" y1="249.98" x2="404.92" y2="249.98" stroke="#444444" stroke-width="0.8" />
<line x1="582.30" y1="249.98" x2="580.98" y2="249.98" stroke="#444444" stroke-width="0.8" />
<line x1="403.60" y1="242.08" x2="404.92" y2="242.08" stroke="#444444" stroke-width="0.8" />
<line x1="582.30" y1="242.08" x2="580.98" y2="242.08" stroke="#444444" stroke-width="0.8" />
<line x1="403.60" y1="236.47" x2="404.92" y2="236.47" stroke="#444444" stroke-width="0.8" />
<line x1="582.30" y1="236.47" x2="580.98" y2="236.47" stroke="#444444" stroke-width="0.8" />
<line x1="403.60" y1="232.12" x2="404.92" y2="232.12" stroke="#444444" stroke-width="0.8" />
<line x1="582.30" y1="232.12" x2="580.98" y2="232.12" stroke="#444444" stroke-width="0.8" />
<line x1="403.60" y1="228.56" x2="404.92" y2="228.56" stroke="#444444" stroke-width="0.8" />
<line x1="582.30" y1="228.56" x2="580.98" y2="228.56" stroke="#444444" stroke-width="0.8" />
<line x1="403.60" y1="225.56" x2="404.92" y2="225.56" stroke="#444444" stroke-width="0.8" />
<line x1="582.30" y1="225.56" x2="580.98" y2="225.56" stroke="#444444" stroke-width="0.8" />
<line x1="403.60" y1="222.95" x2="404.92" y2="222.95" stroke="#444444" stroke-width="0.8" />
<line x1="582.30" y1="222.95" x2="580.98" y2="222.95" stroke="#444444" stroke-width="0.8" />
<line x1="403.60" y1="220.65" x2="404.92" y2="220.65" stroke="#444444" stroke-width="0.8" />
<line x1="582.30" y1="220.65" x2="580.98" y2="220.65" stroke="#444444" stroke-width="0.8" />
<rect x="403.60" y="218.60" width="178.70" height="134.70" fill="none" stroke="#444444" stroke-width="1.3"/>
<text x="404.10" y="366.60" font-family='"Liberation Sans", sans-serif' font-size="9.5" text-anchor="middle" font-weight="normal" fill="#262626" >1000</text>
<text x="513.08" y="366.60" font-family='"Liberation Sans", sans-serif' font-size="9.5" text-anchor="middle" font-weight="normal" fill="#262626" >10000</text>
<text x="582.60" y="366.60" font-family='"Liberation Sans", sans-serif' font-size="9.5" text-anchor="middle" font-weight="normal" fill="#262626" >50000</text>
<text x="400.00" y="224.20" font-family='"Liberation Sans", sans-serif' font-size="10" text-anchor="end" fill="#262626">10<tspan font-size="6.5" dy="-3.8">2</tspan></text>
<text x="400.00" y="269.10" font-family='"Liberation Sans", sans-serif' font-size="10" text-anchor="end" fill="#262626">10<tspan font-size="6.5" dy="-3.8">1</tspan></text>
<text x="400.00" y="314.00" font-family='"Liberation Sans", sans-serif' font-size="10" text-anchor="end" fill="#262626">10<tspan font-size="6.5" dy="-3.8">0</tspan></text>
<text x="400.00" y="358.90" font-family='"Liberation Sans", sans-serif' font-size="10" text-anchor="end" fill="#262626">10<tspan font-size="6.5" dy="-3.8">-1</tspan></text>
<line x1="408.80" y1="228.40" x2="425.40" y2="228.40" stroke="#7a8068" stroke-width="2" />
<line x1="408.80" y1="239.80" x2="425.40" y2="239.80" stroke="#1a99ff" stroke-width="2" />
<text x="426.6" y="232" font-family='"Liberation Sans", sans-serif' font-size="9.5" fill="#000">Quasistatic <tspan font-size="8.5">(0.1 s<tspan font-size="6" dy="-3.5">-1</tspan><tspan dy="3.5">)</tspan></tspan></text>
<text x="426.6" y="243.4" font-family='"Liberation Sans", sans-serif' font-size="9.5" fill="#000">Dynamic (2200 s<tspan font-size="6" dy="-3.5">-1</tspan><tspan dy="3.5">)</tspan></text>
<g transform="translate(492.40,380.70)">
<text x="-20.16" y="0.00" font-family='"Liberation Sans", sans-serif' font-size="13.00" fill="#000" stroke="#000" stroke-width="0.15">Area,</text>
<text x="12.22" y="0.00" font-family='"Liberation Serif", serif' font-size="13.00" font-style="italic" fill="#000" stroke="#000" stroke-width="0.15">A</text>
<line x1="14.92" y1="-11.38" x2="19.92" y2="-11.38" stroke="#000" stroke-width="0.78"/>
</g>
<g transform="translate(380.20,288.70) rotate(-90)">
<text x="-35.94" y="0.00" font-family='"Liberation Sans", sans-serif' font-size="13.00" fill="#000" stroke="#000" stroke-width="0.15">Thickness,</text>
<text x="29.44" y="0.00" font-family='"Liberation Serif", serif' font-size="13.00" font-style="italic" fill="#000" stroke="#000" stroke-width="0.15">h</text>
<line x1="30.74" y1="-10.79" x2="35.94" y2="-10.79" stroke="#000" stroke-width="0.78"/>
</g>
<text x="496.50" y="214.00" font-family='"Liberation Sans", sans-serif' font-size="20" text-anchor="middle" font-weight="bold" fill="#000" >e</text>
</svg></body></html>
